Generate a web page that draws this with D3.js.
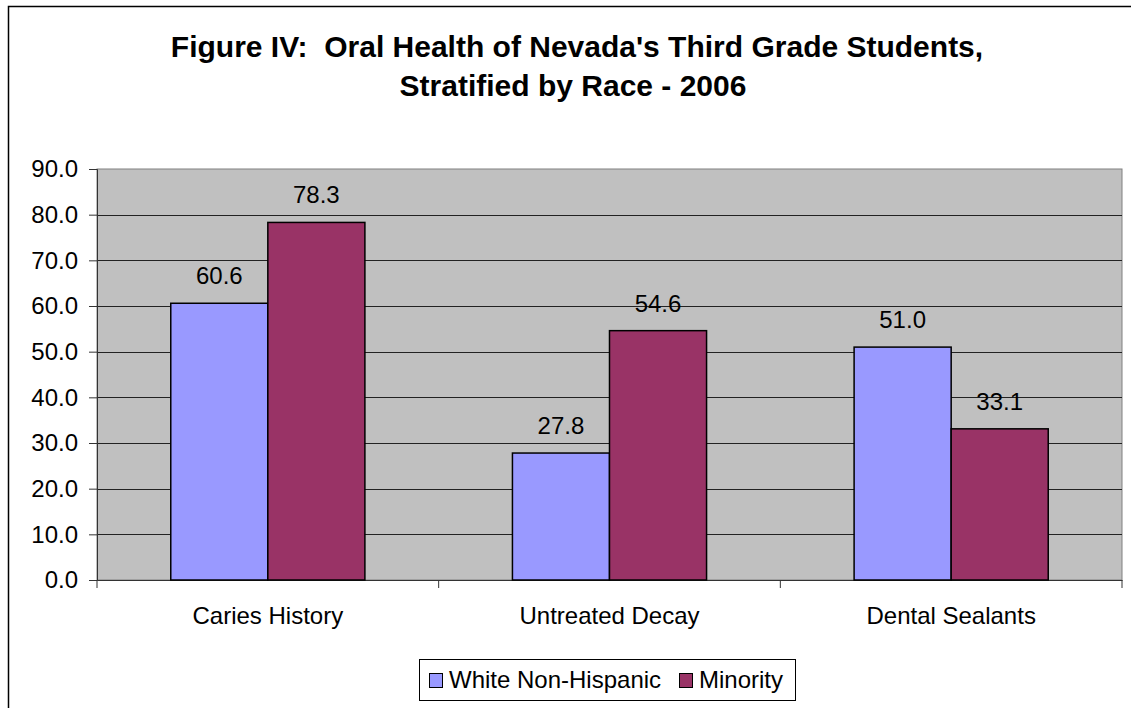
<!DOCTYPE html>
<html>
<head>
<meta charset="utf-8">
<script src="https://cdn.jsdelivr.net/npm/d3@7"></script>
<style>
  body { margin: 0; background: #fff; }
  svg { display: block; font-family: "Liberation Sans", Arial, sans-serif; }
</style>
</head>
<body>
<div id="chart"></div>
<script>
const categories = ["Caries History", "Untreated Decay", "Dental Sealants"];
const seriesNames = ["White Non-Hispanic", "Minority"];
const whiteValues = [60.6, 27.8, 51.0];
const minorityValues = [78.3, 54.6, 33.1];
const yTicks = [0, 10, 20, 30, 40, 50, 60, 70, 80, 90];
const colors = ["#9999FF", "#993366"];

const width = 1131, height = 708;
const plot = { left: 97, top: 169, right: 1122, bottom: 580 };
const fontFamily = "Liberation Sans, Arial, sans-serif";

const svg = d3.select("#chart").append("svg")
    .attr("width", width)
    .attr("height", height);

// outer chart border (runs off the right and bottom)
svg.append("rect")
    .attr("x", 8.5).attr("y", 6.5)
    .attr("width", 1140).attr("height", 720)
    .attr("fill", "none")
    .attr("stroke", "#000")
    .attr("stroke-width", 1.5);

// Title
const title = svg.append("text")
    .attr("text-anchor", "middle")
    .attr("font-size", "30px")
    .attr("font-weight", "bold");
title.append("tspan").attr("x", 577).attr("y", 57)
    .attr("xml:space", "preserve")
    .text("Figure IV:  Oral Health of Nevada's Third Grade Students,");
title.append("tspan").attr("x", 573).attr("y", 96)
    .text("Stratified by Race - 2006");

const x0 = d3.scaleBand()
    .domain(categories)
    .range([plot.left, plot.right]);

const x1 = d3.scaleBand()
    .domain(seriesNames)
    .range([0, x0.bandwidth()])
    .paddingOuter(0.76)
    .paddingInner(0);

const y = d3.scaleLinear()
    .domain([0, 90])
    .range([plot.bottom, plot.top]);

// plot background
svg.append("rect")
    .attr("x", plot.left).attr("y", plot.top)
    .attr("width", plot.right - plot.left)
    .attr("height", plot.bottom - plot.top)
    .attr("fill", "#C0C0C0")
    .attr("stroke", "#808080");

// gridlines
svg.append("g")
    .selectAll("line")
    .data(yTicks.filter(d => d > 0 && d < 90))
    .enter().append("line")
    .attr("x1", plot.left).attr("x2", plot.right)
    .attr("y1", d => Math.round(y(d)) + 0.5)
    .attr("y2", d => Math.round(y(d)) + 0.5)
    .attr("stroke", "#222");

// Y axis
const yAxis = svg.append("g")
    .attr("transform", `translate(${plot.left}, 0)`)
    .call(d3.axisLeft(y).tickValues(yTicks).tickFormat(d3.format(".1f")).tickSize(8).tickPadding(11));
yAxis.attr("font-size", 24).attr("font-family", fontFamily);
yAxis.selectAll("text").attr("fill", "#000");
yAxis.selectAll("line, path").attr("stroke", "#333");

// X axis
const xAxis = svg.append("g")
    .attr("transform", `translate(0, ${plot.bottom})`)
    .call(d3.axisBottom(x0).tickSize(0).tickPadding(27));
xAxis.attr("font-size", 24).attr("font-family", fontFamily);
xAxis.selectAll("text").attr("fill", "#000");
xAxis.select("path").attr("stroke", "#333");
// tick marks at category boundaries
xAxis.selectAll(".bound")
    .data([plot.left, ...categories.slice(1).map(c => x0(c)), plot.right])
    .enter().append("line")
    .attr("x1", d => d).attr("x2", d => d)
    .attr("y1", 0).attr("y2", 8)
    .attr("stroke", "#333");

// Bars
const rows = categories.map((c, i) => ({
    category: c,
    values: [
        { series: seriesNames[0], value: whiteValues[i] },
        { series: seriesNames[1], value: minorityValues[i] }
    ]
}));

const groups = svg.append("g")
    .selectAll("g")
    .data(rows)
    .enter().append("g")
    .attr("transform", d => `translate(${x0(d.category)}, 0)`);

groups.selectAll("rect")
    .data(d => d.values)
    .enter().append("rect")
    .attr("x", d => x1(d.series))
    .attr("y", d => y(d.value))
    .attr("width", x1.bandwidth())
    .attr("height", d => y(0) - y(d.value))
    .attr("fill", (d, i) => colors[i])
    .attr("stroke", "#000")
    .attr("stroke-width", 1.5);

groups.selectAll("text")
    .data(d => d.values)
    .enter().append("text")
    .attr("x", d => x1(d.series) + x1.bandwidth() / 2)
    .attr("y", d => y(d.value) - 19)
    .attr("text-anchor", "middle")
    .attr("font-size", "24px")
    .text(d => d3.format(".1f")(d.value));

// Legend
const legend = svg.append("g");
legend.append("rect")
    .attr("x", 419.5).attr("y", 659.5)
    .attr("width", 376).attr("height", 41)
    .attr("fill", "#fff")
    .attr("stroke", "#000");

const legendX = [429, 679];
seriesNames.forEach((name, i) => {
    legend.append("rect")
        .attr("x", legendX[i] + 0.5).attr("y", 673.5)
        .attr("width", 13).attr("height", 14)
        .attr("fill", colors[i])
        .attr("stroke", "#000");
    legend.append("text")
        .attr("x", legendX[i] + 20).attr("y", 688)
        .attr("font-size", "24px")
        .text(name);
});
</script>
</body>
</html>
